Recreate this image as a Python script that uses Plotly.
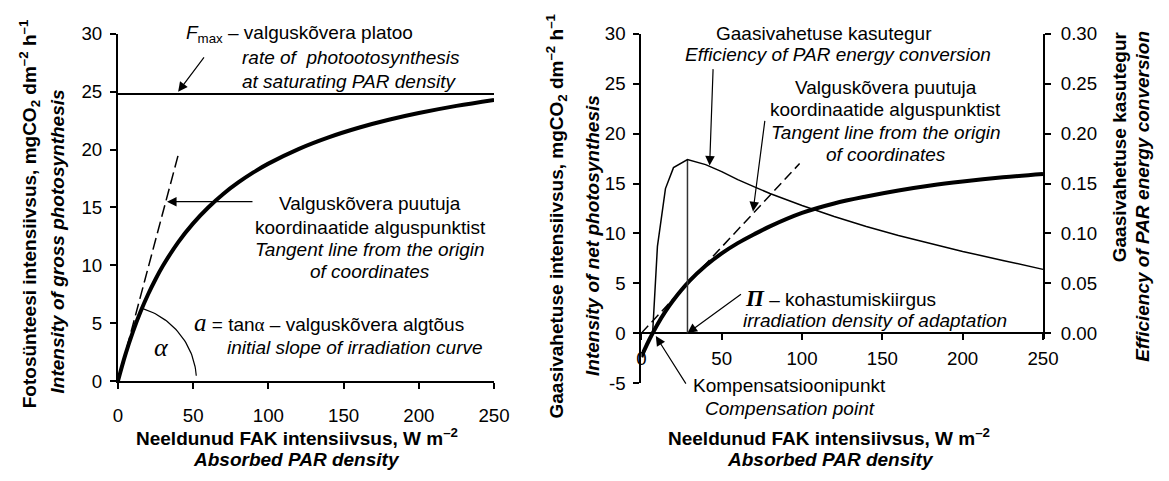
import numpy as np
import plotly.graph_objects as go

W, H = 1169, 481
SANS = "Liberation Sans, Arial, sans-serif"
SERIF = "Liberation Serif, Times New Roman, serif"
FS = 19
TFS = 18.7

# ---------------- data: left panel (gross photosynthesis) ----------------
par_gross = [0, 5, 10, 15, 20, 25, 30, 40, 50, 60, 70, 80, 90, 100, 120, 140, 160, 180, 200, 225, 250]
gross = [0, 2.30, 4.27, 5.98, 7.48, 8.80, 9.98, 11.99, 13.63, 15.00, 16.17, 17.16, 18.03, 18.79,
         20.05, 21.06, 21.89, 22.58, 23.16, 23.78, 24.30]
fmax_value = 24.8
fmax_x = [0, 250]
tangent_left_x = [0, 40.4]
tangent_left_y = [0, 19.7]

# ---------------- data: right panel (net photosynthesis) ----------------
par_net = [0, 2, 5, 10, 15, 20, 30, 40, 50, 60, 70, 80, 100, 120, 140, 160, 180, 200, 225, 250]
net = [-2.40, -1.66, -0.64, 0.87, 2.18, 3.32, 5.23, 6.75, 7.99, 9.02, 9.89, 10.70, 12.05, 13.00,
       13.70, 14.30, 14.80, 15.20, 15.62, 15.96]
par_eff = [7, 10, 15, 20, 28.7, 40, 50, 60, 70, 80, 100, 120, 140, 160, 180, 200, 225, 250]
eff = [0.000, 0.087, 0.145, 0.166, 0.174, 0.169, 0.162, 0.154, 0.147, 0.140, 0.128, 0.117, 0.107,
       0.098, 0.090, 0.082, 0.073, 0.064]
adapt_par = 28.7
adapt_eff = 0.174
tangent_right_x = [0, 98.5]
tangent_right_y = [0, 17.0]

x_ticks = [0, 50, 100, 150, 200, 250]
y_left_ticks = [0, 5, 10, 15, 20, 25, 30]
y_right_ticks = [-5, 0, 5, 10, 15, 20, 25, 30]
y_right_ticktext = ["-5", "0", "5", "10", "15", "20", "25", "30"]
eff_ticks = [0.00, 0.05, 0.10, 0.15, 0.20, 0.25, 0.30]
eff_ticktext = ["0.00", "0.05", "0.10", "0.15", "0.20", "0.25", "0.30"]

# angle arc (quarter of an ellipse in data units = circle on screen)
arc_rx, arc_ry = 52.2, 6.61
arc_t = np.radians(np.linspace(72, 4, 40))
arc_x = arc_rx * np.cos(arc_t)
arc_y = arc_ry * np.sin(arc_t)

def fx(px):
    return px / W

def fy(py):
    return 1 - py / H

fig = go.Figure()

# left panel traces
fig.add_trace(go.Scatter(x=fmax_x, y=[fmax_value, fmax_value], mode="lines",
                         line=dict(color="black", width=2), xaxis="x", yaxis="y"))
fig.add_trace(go.Scatter(x=tangent_left_x, y=tangent_left_y, mode="lines",
                         line=dict(color="black", width=1.5, dash="12px,5px"), xaxis="x", yaxis="y"))
fig.add_trace(go.Scatter(x=arc_x, y=arc_y, mode="lines",
                         line=dict(color="black", width=1.2), xaxis="x", yaxis="y"))
fig.add_trace(go.Scatter(x=par_gross, y=gross, mode="lines",
                         line=dict(color="black", width=4, shape="spline"), xaxis="x", yaxis="y"))

# right panel traces
fig.add_trace(go.Scatter(x=[adapt_par, adapt_par], y=[0, adapt_eff], mode="lines",
                         line=dict(color="#333333", width=1.5), xaxis="x2", yaxis="y3"))
fig.add_trace(go.Scatter(x=par_eff, y=eff, mode="lines",
                         line=dict(color="black", width=1.5), xaxis="x2", yaxis="y3"))
fig.add_trace(go.Scatter(x=par_net, y=net, mode="lines",
                         line=dict(color="black", width=4, shape="spline"), xaxis="x2", yaxis="y2"))
fig.add_trace(go.Scatter(x=tangent_right_x, y=tangent_right_y, mode="lines",
                         line=dict(color="black", width=1.5, dash="10px,5px"), xaxis="x2", yaxis="y2"))

axis_common = dict(showline=True, linecolor="black", linewidth=2, ticks="outside", ticklen=6,
                   tickwidth=2, tickcolor="black", showgrid=False, zeroline=False,
                   tickfont=dict(family=SANS, size=TFS, color="black"))

fig.update_layout(
    width=W, height=H, margin=dict(l=0, r=0, t=0, b=0, pad=0),
    paper_bgcolor="white", plot_bgcolor="rgba(0,0,0,0)", showlegend=False,
    font=dict(family=SANS, size=FS, color="black"),
    xaxis=dict(domain=[fx(115), fx(498)], range=[0, 250], anchor="y", tickvals=x_ticks,
               ticklabelstandoff=10, **axis_common),
    yaxis=dict(domain=[fy(388), fy(25)], range=[0, 30], anchor="x", tickvals=y_left_ticks,
               ticklabelstandoff=4, **axis_common),
    xaxis2=dict(domain=[fx(648), fx(1057)], range=[0, 250], anchor="free", position=fy(338),
                tickvals=x_ticks, ticklabelstandoff=2, **axis_common),
    yaxis2=dict(domain=[fy(390), fy(25)], range=[-5, 30], anchor="x2", tickvals=y_right_ticks,
                ticktext=y_right_ticktext, ticklabelstandoff=4, **axis_common),
    yaxis3=dict(domain=[fy(344), fy(25)], range=[-0.00575, 0.30], anchor="x2", side="right",
                tickvals=eff_ticks, ticktext=eff_ticktext, ticklabelstandoff=6, **axis_common),
    yaxis4=dict(overlaying="y3", range=[-0.00575, 0.30], anchor="x2", side="right",
                tickvals=eff_ticks, ticks="inside", ticklen=6, tickwidth=2, tickcolor="black",
                showticklabels=False, showline=False, showgrid=False, zeroline=False),
)

ann = []

def txt(px, py, text, xanchor="center", yanchor="middle", angle=0, size=FS):
    ann.append(dict(x=fx(px), y=fy(py), xref="paper", yref="paper", text=text, showarrow=False,
                    xanchor=xanchor, yanchor=yanchor, textangle=angle,
                    font=dict(family=SANS, size=size, color="black")))

def arrow(x, y, ax, ay, xref="x", yref="y"):
    ann.append(dict(x=x, y=y, xref=xref, yref=yref, text="", showarrow=True, ax=ax, ay=ay,
                    arrowhead=2, arrowsize=1.6, arrowwidth=1.2, arrowcolor="black", standoff=0))

# ---- left panel texts
txt(182, 25, "<i>F</i><sub>max</sub> – valguskõvera platoo", xanchor="left")
txt(239, 50, "<i>rate of\u00a0 photootosynthesis</i>", xanchor="left")
txt(239, 75, "<i>at saturating PAR density</i>", xanchor="left")
arrow(40, 25.0, 27, -36)

txt(372, 202, "Valguskõvera puutuja")
txt(372, 227, "koordinaatide alguspunktist")
txt(372, 250, "<i>Tangent line from the origin</i>")
txt(372, 273, "<i>of coordinates</i>")
arrow(32.6, 15.5, 87, 0)

txt(330, 327, '<span style="font-family:Liberation Serif;font-size:25px"><i>a</i></span> = tan'
              '<span style="font-family:Liberation Serif">α</span> – valguskõvera algtõus')
txt(356, 353, "<i>initial slope of irradiation curve</i>")
ann.append(dict(x=29, y=2.9, xref="x", yref="y", text="<i>α</i>", showarrow=False,
                font=dict(family=SERIF, size=26, color="black")))

txt(297, 447, "<b>Neeldunud FAK intensiivsus, W m<sup>–2</sup></b>")
txt(297, 470, "<b><i>Absorbed PAR density</i></b>")
txt(25, 213, "<b>Fotosünteesi intensiivsus, mgCO<sub>2</sub> dm<sup>–2</sup> h<sup>–1</sup></b>", angle=-90)
txt(53, 242, "<b><i>Intensity of gross photosynthesis</i></b>", angle=-90)

# ---- right panel texts
txt(834, 25, "Gaasivahetuse kasutegur")
txt(848, 47, "<i>Efficiency of PAR energy conversion</i>")
arrow(42.5, 0.168, 3.5, -98, xref="x2", yref="y3")

txt(897, 81, "Valguskõvera puutuja")
txt(897, 104, "koordinaatide alguspunktist")
txt(897, 128, "<i>Tangent line from the origin</i>")
txt(897, 151, "<i>of coordinates</i>")
arrow(69.5, 12.2, 12, -92, xref="x2", yref="y2")

txt(751, 302, '<span style="font-family:Liberation Serif;font-size:23px"><b><i>Π</i></b></span>'
              ' – kohastumiskiirgus', xanchor="left")
txt(886, 325, "<i>irradiation density of adaptation</i>")
arrow(adapt_par, 0, 55, -40, xref="x2", yref="y2")

txt(799, 393, "Kompensatsioonipunkt")
txt(799, 417, "<i>Compensation point</i>")
arrow(9, -0.3, 31, 49, xref="x2", yref="y2")

txt(839, 447, "<b>Neeldunud FAK intensiivsus, W m<sup>–2</sup></b>")
txt(841, 470, "<b><i>Absorbed PAR density</i></b>")
txt(562, 215, "<b>Gaasivahetuse intensiivsus, mgCO<sub>2</sub> dm<sup>–2</sup> h<sup>–1</sup></b>", angle=-90)
txt(598, 236, "<b><i>Intensity of net photosynthesis</i></b>", angle=-90)
txt(1135, 20, "<b>Gaasivahetuse kasutegur</b>", yanchor="top", angle=-90)
txt(1158, 20, "<b><i>Efficiency of PAR energy conversion</i></b>", yanchor="top", angle=-90)

fig.update_layout(annotations=ann)
fig.write_html("out.html")
